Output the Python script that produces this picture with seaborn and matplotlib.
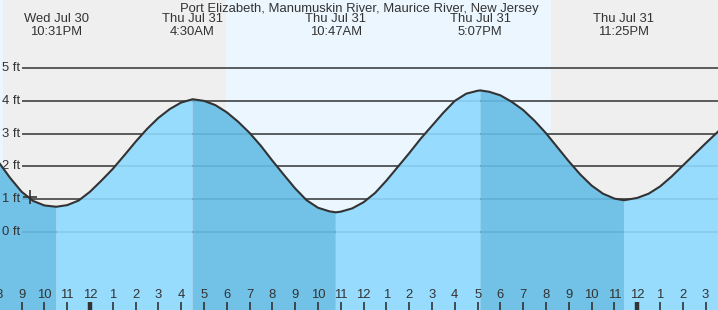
import matplotlib
matplotlib.use("Agg")
import matplotlib.pyplot as plt
import matplotlib.transforms as mtransforms
import numpy as np
import pandas as pd
import seaborn as sns

# ---------------- data (hours relative to midnight, Thu Jul 31) ----------------
hours = [-4.5, -4.0, -3.5, -3.0, -2.5, -2.0, -1.48, -1.0, -0.5, 0.0, 0.5, 1.0,
         1.5, 2.0, 2.5, 3.0, 3.5, 4.0, 4.5, 5.0, 5.5, 6.0, 6.5, 7.0, 7.5, 8.0,
         8.5, 9.0, 9.5, 10.0, 10.5, 10.78, 11.0, 11.5, 12.0, 12.5, 13.0, 13.5,
         14.0, 14.5, 15.0, 15.5, 16.0, 16.5, 17.0, 17.12, 17.5, 18.0, 18.5,
         19.0, 19.5, 20.0, 20.5, 21.0, 21.5, 22.0, 22.5, 23.0, 23.42, 24.0,
         24.5, 25.0, 25.5, 26.0, 26.5, 27.0, 27.5, 28.0]
levels = [2.55, 2.12, 1.64, 1.22, 0.94, 0.80, 0.76, 0.81, 0.95, 1.22, 1.56, 1.92,
          2.33, 2.75, 3.14, 3.48, 3.75, 3.95, 4.05, 4.00, 3.87, 3.65, 3.36, 3.02,
          2.62, 2.17, 1.74, 1.32, 0.96, 0.73, 0.62, 0.59, 0.61, 0.71, 0.90, 1.18,
          1.56, 1.98, 2.40, 2.84, 3.24, 3.64, 4.00, 4.22, 4.31, 4.32, 4.28, 4.17,
          3.97, 3.72, 3.39, 3.01, 2.58, 2.15, 1.75, 1.41, 1.16, 1.01, 0.96, 1.03,
          1.16, 1.38, 1.68, 2.02, 2.36, 2.70, 3.03, 3.35]

extreme_hours = [-1.48, 4.5, 10.78, 17.12, 23.42]
extreme_kinds = ["low", "high", "low", "high", "low"]
extreme_labels = ["Wed Jul 30\n10:31PM", "Thu Jul 31\n4:30AM", "Thu Jul 31\n10:47AM",
                  "Thu Jul 31\n5:07PM", "Thu Jul 31\n11:25PM"]

sun_events = [-3.80, 5.98, 20.23]           # sunset, sunrise, sunset
now_hour, now_level = -2.63, 1.07

tick_hours = list(range(-4, 28))
tick_labels = ["8", "9", "10", "11", "12", "1", "2", "3", "4", "5", "6", "7", "8",
               "9", "10", "11", "12", "1", "2", "3", "4", "5", "6", "7", "8", "9",
               "10", "11", "12", "1", "2", "3"]
ft_levels = [0, 1, 2, 3, 4, 5]
title = "Port Elizabeth, Manumuskin River, Maurice River, New Jersey"

# ---------------- style ----------------
sns.set_style("white")
plt.rcParams["font.family"] = ["Liberation Sans", "DejaVu Sans"]
TXT = "#333333"
FS = 9.4

df = pd.DataFrame({"hour": hours, "level": levels})

W, H = 718, 310
fig = plt.figure(figsize=(W / 100, H / 100), dpi=100)
ax = fig.add_axes([0, 0, 1, 1])
x0 = (0 - 90) / 22.8
x1 = (W - 90) / 22.8
ax.set_xlim(x0, x1)
ax.set_ylim(-2.399, 7.087)
for s in ax.spines.values():
    s.set_visible(False)

# day / night background
night = "#efefef"
day = "#ebf6ff"
bounds = [x0 - 1] + sun_events + [x1 + 1]
colors = [day, night, day, night]
for (a, b), c in zip(zip(bounds[:-1], bounds[1:]), colors):
    ax.axvspan(a, b, color=c, zorder=0, lw=0)

# grid lines
ax.hlines(ft_levels, 22 / W, 1, transform=ax.get_yaxis_transform(),
          colors="#333333", lw=1.1, zorder=1)
for v in ft_levels:
    ax.text(2 / W, v, f"{v} ft", transform=ax.get_yaxis_transform(),
            ha="left", va="center", fontsize=FS, color=TXT, zorder=5)

# water fill (falling = darker, rising = lighter)
t = np.array(hours)
lv = np.array(levels)
falling = np.zeros(len(t), dtype=bool)
prev = -100.0
for eh, kind in zip(extreme_hours, extreme_kinds):
    if kind == "low":
        falling |= (t >= prev) & (t <= eh)
    else:
        prev = eh
rising = ~falling
for eh in extreme_hours:
    rising |= np.isclose(t, eh)
ax.fill_between(t, -3, lv, where=rising, color="#8ed9ff", alpha=0.9, lw=0, zorder=2)
ax.fill_between(t, -3, lv, where=falling, color="#65bce5", alpha=0.9, lw=0, zorder=2)

sns.lineplot(data=df, x="hour", y="level", ax=ax, color="#333333", lw=1.5,
             zorder=4, estimator=None, sort=False)
ax.plot([now_hour], [now_level], marker="+", ms=10, mew=1.2, color="#333333", zorder=5)

ax.set_xlabel("")
ax.set_ylabel("")
ax.set_yticks([])

# x ticks
bt = mtransforms.blended_transform_factory(ax.transData, ax.transAxes)
for h, lab in zip(tick_hours, tick_labels):
    ax.text(h, 15 / H, lab, transform=bt, ha="center", va="center",
            fontsize=FS, color=TXT, zorder=5, clip_on=False)
    lw = 3.2 if h % 24 == 0 else 1.2
    ax.plot([h, h], [0, 8 / H], transform=bt, color="#333333", lw=lw,
            zorder=5, solid_capstyle="butt")
ax.set_xticks([])

# titles
fig.text(0.5, 1 - 9 / H, title, ha="center", va="center", fontsize=FS, color=TXT)
for eh, lab in zip(extreme_hours, extreme_labels):
    ax.text(eh, 1 - 25.5 / H, lab, transform=bt, ha="center", va="center",
            fontsize=FS, color=TXT, linespacing=1.08, zorder=6)

fig.savefig("out.png", dpi=100)
